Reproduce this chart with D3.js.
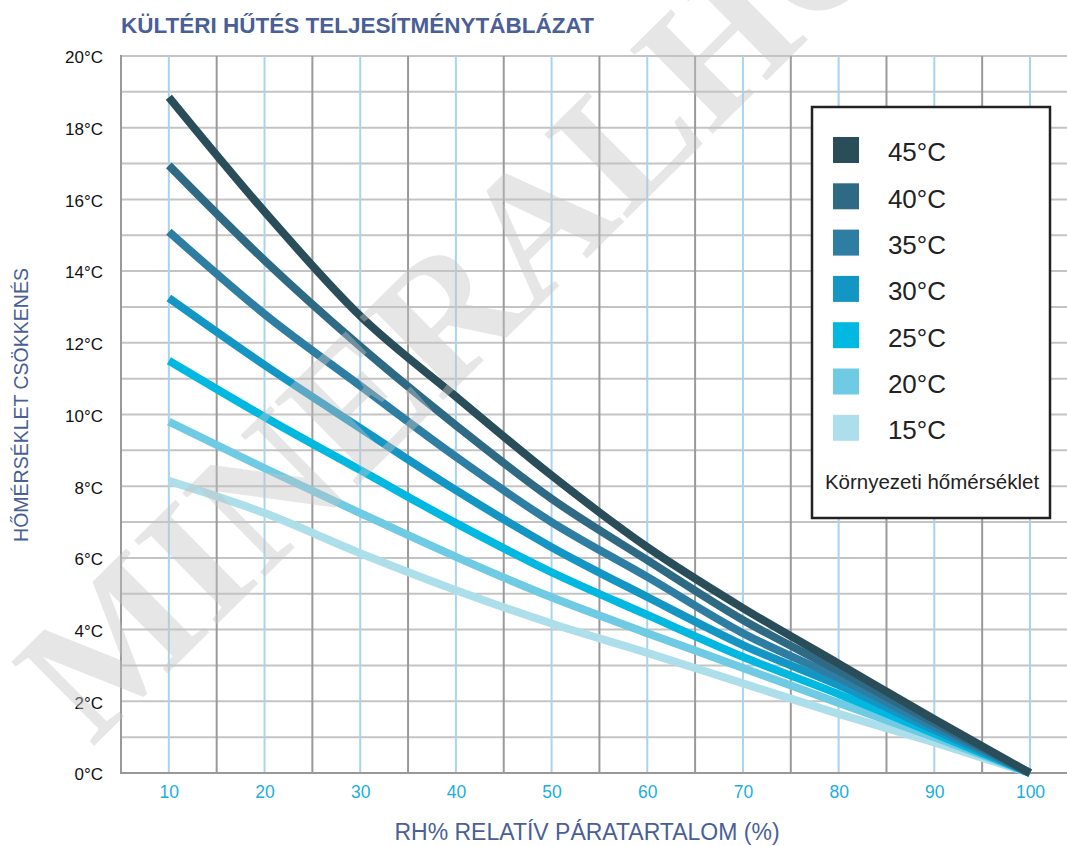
<!DOCTYPE html>
<html>
<head>
<meta charset="utf-8">
<script src="https://cdn.jsdelivr.net/npm/d3@7/dist/d3.min.js"></script>
<style>
  html, body { margin: 0; padding: 0; background: #fff; }
  svg { display: block; }
</style>
</head>
<body>
<svg id="chart" width="1067" height="846"></svg>
<script>
const rhValues = [10, 20, 30, 40, 50, 60, 70, 80, 90, 100];
const seriesNames = ["45°C", "40°C", "35°C", "30°C", "25°C", "20°C", "15°C"];
const s45 = [18.85, 15.66, 12.75, 10.5, 8.3, 6.3, 4.6, 3.05, 1.5, 0];
const s40 = [16.95, 14.3, 11.9, 9.7, 7.65, 5.94, 4.27, 2.85, 1.4, 0];
const s35 = [15.1, 12.8, 10.8, 8.82, 7.0, 5.47, 3.9, 2.65, 1.3, 0];
const s30 = [13.25, 11.38, 9.62, 7.89, 6.3, 4.91, 3.57, 2.45, 1.2, 0];
const s25 = [11.5, 9.93, 8.45, 6.97, 5.6, 4.41, 3.24, 2.2, 1.1, 0];
const s20 = [9.8, 8.5, 7.25, 6.03, 4.9, 3.9, 2.93, 1.95, 1.0, 0];
const s15 = [8.15, 7.25, 6.13, 5.1, 4.17, 3.35, 2.5, 1.65, 0.85, 0];
const seriesValues = [s45, s40, s35, s30, s25, s20, s15];
const seriesColors = ["#2a4d5a", "#2f6a85", "#2e7ea3", "#1496c4", "#00b8e0", "#6fcbe3", "#addfea"];
const xTickValues = [10, 20, 30, 40, 50, 60, 70, 80, 90, 100];
const yTickValues = [0, 2, 4, 6, 8, 10, 12, 14, 16, 18, 20];
const titleText = "KÜLTÉRI HŰTÉS TELJESÍTMÉNYTÁBLÁZAT";
const xTitle = "RH% RELATÍV PÁRATARTALOM (%)";
const yTitle = "HŐMÉRSÉKLET CSÖKKENÉS";
const legendTitle = "Környezeti hőmérséklet";
const watermark = "MINERALHOME";

(function () {
const svg = d3.select("#chart");
const W = 1067, H = 846;
const pLeft = 121, pTop = 56, pBottom = 773;
const x = d3.scaleLinear().domain([5, 100]).range([pLeft, 1030]);
const y = d3.scaleLinear().domain([0, 20]).range([pBottom, pTop]);
const font = "Arial, 'Liberation Sans', Helvetica, sans-serif";

svg.append("text").attr("x", 121).attr("y", 33)
  .attr("font-family", font).attr("font-weight", "bold").attr("font-size", 22.5)
  .attr("fill", "#4a5f96").text(titleText);

const grid = svg.append("g");
d3.range(1, 21).forEach(v => {
  grid.append("line").attr("x1", pLeft).attr("x2", W)
    .attr("y1", y(v)).attr("y2", y(v))
    .attr("stroke", "#c4c4c4").attr("stroke-width", 2);
});
const xMax = x.invert(W);
d3.range(15, xMax, 10).forEach(v => {
  grid.append("line").attr("x1", x(v)).attr("x2", x(v))
    .attr("y1", pTop).attr("y2", pBottom)
    .attr("stroke", "#9a9a9a").attr("stroke-width", 2);
});
xTickValues.forEach(v => {
  grid.append("line").attr("x1", x(v)).attr("x2", x(v))
    .attr("y1", pTop).attr("y2", pBottom)
    .attr("stroke", "#a9d3ee").attr("stroke-width", 2);
});
grid.append("line").attr("x1", pLeft).attr("x2", pLeft).attr("y1", pTop - 1).attr("y2", pBottom + 1)
  .attr("stroke", "#999").attr("stroke-width", 2);
grid.append("line").attr("x1", pLeft).attr("x2", W).attr("y1", pBottom).attr("y2", pBottom)
  .attr("stroke", "#999").attr("stroke-width", 2);

const xAxis = d3.axisBottom(x).tickValues(xTickValues).tickSize(0).tickPadding(0);
const gx = svg.append("g").attr("transform", `translate(0,${pBottom + 13})`).call(xAxis);
gx.select(".domain").remove();
gx.selectAll("text").attr("font-family", font).attr("font-size", 17.5).attr("fill", "#1aaee0").attr("dy", "0.71em");

const yAxis = d3.axisLeft(y).tickValues(yTickValues).tickSize(0).tickPadding(0).tickFormat(d => d + "°C");
const gy = svg.append("g").attr("transform", `translate(103,0)`).call(yAxis);
gy.select(".domain").remove();
gy.selectAll("text").attr("font-family", font).attr("font-size", 17).attr("fill", "#111").attr("dy", "0.4em");

const lineGen = d3.line().x((d, i) => x(rhValues[i])).y(d => y(d)).curve(d3.curveMonotoneX);
const linesG = svg.append("g");
seriesValues.slice().reverse().forEach((vals, ri) => {
  const i = seriesValues.length - 1 - ri;
  linesG.append("path").attr("d", lineGen(vals)).attr("fill", "none")
    .attr("stroke", seriesColors[i]).attr("stroke-width", 8).attr("stroke-linecap", "butt").attr("stroke-linejoin", "round");
});

svg.append("text").attr("transform", "translate(92,748) rotate(-44.7)")
  .attr("font-family", "'Liberation Serif', 'Times New Roman', serif").attr("font-weight", "bold")
  .attr("font-size", 180).attr("fill", "rgba(195,195,195,0.42)")
  .text(watermark);

const lg = svg.append("g");
lg.append("rect").attr("x", 812).attr("y", 107).attr("width", 238).attr("height", 411)
  .attr("fill", "#fff").attr("stroke", "#222").attr("stroke-width", 2.5);
seriesNames.forEach((n, i) => {
  const yy = 137 + i * 46.3;
  lg.append("rect").attr("x", 833).attr("y", yy).attr("width", 26).attr("height", 26).attr("fill", seriesColors[i]);
  lg.append("text").attr("x", 946).attr("y", yy + 15).attr("dy", "0.36em").attr("text-anchor", "end")
    .attr("font-family", font).attr("font-size", 26).attr("fill", "#222").text(n);
});
lg.append("text").attr("x", 932).attr("y", 489).attr("text-anchor", "middle")
  .attr("font-family", font).attr("font-size", 20.5).attr("fill", "#222").text(legendTitle);

svg.append("text").attr("x", 587).attr("y", 840).attr("text-anchor", "middle")
  .attr("font-family", font).attr("font-size", 23).attr("fill", "#4a5f96").text(xTitle);
svg.append("text").attr("transform", "translate(28,405) rotate(-90)").attr("text-anchor", "middle")
  .attr("font-family", font).attr("font-size", 19.5).attr("fill", "#4a5f96").text(yTitle);
})();
</script>
</body>
</html>
